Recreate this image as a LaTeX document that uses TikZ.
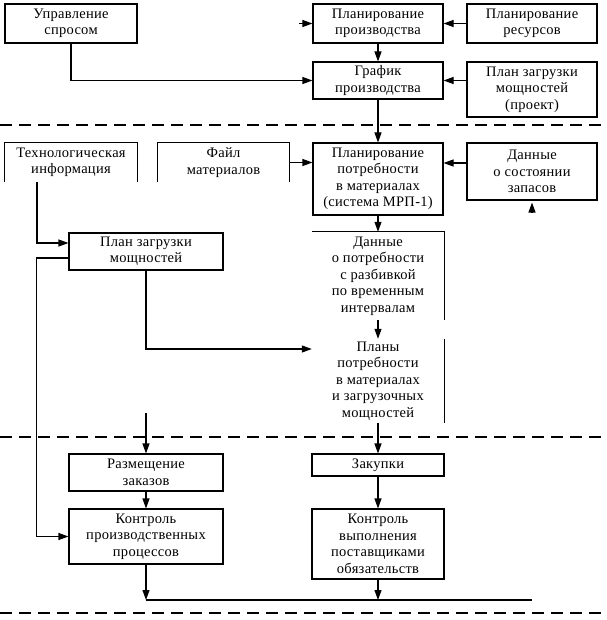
\documentclass[tikz,border=0pt]{standalone}
\usepackage{fontspec}
\setmainfont{Liberation Serif}[LetterSpace=2]
\usetikzlibrary{arrows.meta}
\tikzset{
  box/.style={draw, line width=1.1pt, inner sep=0pt, align=center},
  txt/.style={inner sep=0pt, align=center},
  ln/.style={line width=1.1pt},
  arr/.style={line width=1.1pt, -{Triangle[length=10pt,width=7pt]}},
  sepline/.style={line width=1.1pt, dash pattern=on 12pt off 7pt},
}
\begin{document}
\begin{tikzpicture}[x=1pt,y=-1pt,font=\fontsize{14.5}{16.5}\selectfont]
\useasboundingbox (0,0) rectangle (606,620);
% separators
\draw[sepline] (0,125) -- (606,125);
\draw[sepline] (0,437) -- (606,437);
\draw[sepline] (0,613) -- (606,613);
% top nodes
\node[box, minimum width=132pt, minimum height=39pt] (A) at (71,23.5) {Управление\\спросом};
\node[box, minimum width=130pt, minimum height=39pt] (B) at (378,23.5) {Планирование\\производства};
\node[box, minimum width=130pt, minimum height=39pt] (C) at (532,23.5) {Планирование\\ресурсов};
\node[box, minimum width=130pt, minimum height=37pt] (D) at (378,80.5) {График\\производства};
\node[box, minimum width=130pt, minimum height=55pt] (E) at (532,89.5) {План загрузки\\мощностей\\(проект)};
% middle
\node[txt, minimum width=132pt, minimum height=39pt] (F) at (71,162.5) {Технологическая\\информация};
\draw[ln] (F.south west) -- (F.north west) -- (F.north east) -- (F.south east);
\node[txt, minimum width=131pt, minimum height=39pt] (G) at (223.5,162.5) {Файл\\материалов};
\draw[ln] (G.south west) -- (G.north west) -- (G.north east) -- (G.south east);
\node[box, minimum width=130pt, minimum height=72pt] (H) at (378,179) {Планирование\\потребности\\в материалах\\(система МРП-1)};
\node[box, minimum width=130pt, minimum height=57pt] (I) at (532,171.5) {Данные\\о состоянии\\запасов};
\node[txt, minimum width=132pt, minimum height=88pt] (J) at (378,276) {Данные\\о потребности\\с разбивкой\\по временным\\интервалам};
\draw[ln] (J.north west) -- (J.north east) -- (J.south east);
\node[txt, minimum width=132pt, minimum height=84pt] (K) at (378,381) {Планы\\потребности\\в материалах\\и загрузочных\\мощностей};
\draw[ln] (K.north east) -- (K.south east);
\node[box, minimum width=154pt, minimum height=37pt] (L) at (146,251.5) {План загрузки\\мощностей};
% bottom
\node[box, minimum width=154pt, minimum height=37pt] (M) at (146,472.5) {Размещение\\заказов};
\node[box, minimum width=154pt, minimum height=55pt] (N) at (146,536.5) {Контроль\\производственных\\процессов};
\node[box, minimum width=132pt, minimum height=22pt] (O) at (378,465) {Закупки};
\node[box, minimum width=132pt, minimum height=70pt] (P) at (378,544) {Контроль\\выполнения\\поставщиками\\обязательств};
% connectors
\coordinate (bh) at (299,23.5);
\coordinate (m0) at (146,413);
\coordinate (busL) at (146,600);
\coordinate (busR) at (532,600);
\draw[arr] (A.south) |- (D.west);
\draw[arr] (bh) -- (B.west);
\draw[arr] (C.west) -- (B.east);
\draw[arr] (B.south) -- (D.north);
\draw[arr] (E.west |- D.east) -- (D.east);
\draw[arr] (D.south) -- (H.north);
\draw[arr] (G.east) -- (G.east -| H.west);
\draw[arr] ([yshift=8.5pt]I.west) -- ([yshift=8.5pt]I.west -| H.east);
\draw[arr] ([yshift=-12pt]I.south) -- ([yshift=-2pt]I.south);
\draw[arr] ([xshift=-34pt]F.south) |- ([yshift=8.5pt]L.west);
\draw[arr] ([yshift=-6.5pt]L.west) -- ++(-32,0) |- (N.west);
\draw[arr] (L.south) |- ([yshift=32pt]K.west);
\draw[arr] (H.south) -- (J.north);
\draw[arr] (J.south) -- (K.north);
\draw[arr] (K.south) -- (O.north);
\draw[arr] (m0) -- (M.north);
\draw[arr] (M.south) -- (N.north);
\draw[arr] (O.south) -- (P.north);
\draw[arr] (N.south) -- (busL);
\draw[arr] (P.south) -- (P.south |- busR);
\draw[ln] (busL) -- (busR);
\end{tikzpicture}
\end{document}
